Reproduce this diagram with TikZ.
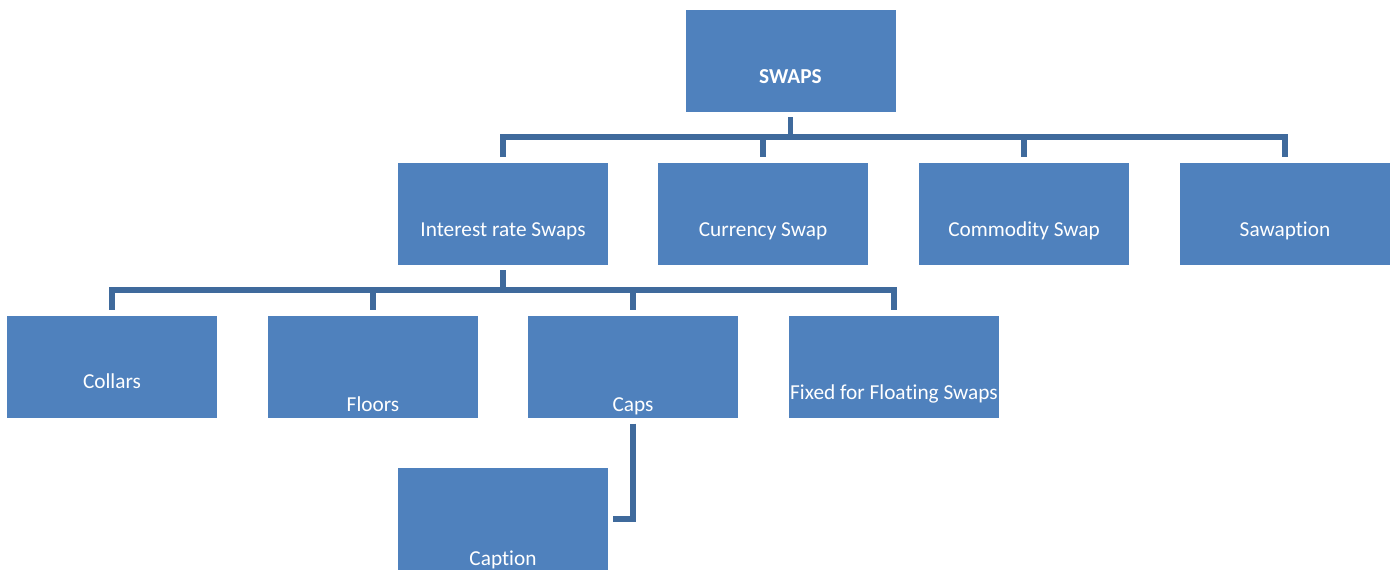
\documentclass[tikz,border=0pt]{standalone}
\usepackage{fontspec}
\setmainfont[Ligatures=NoCommon,Contextuals=NoAlternate]{Carlito}
\definecolor{boxblue}{HTML}{4F81BD}
\definecolor{linkblue}{HTML}{3F6A9C}
\begin{document}
\begin{tikzpicture}[x=1pt,y=-1pt,
  box/.style={fill=boxblue,draw=none,minimum width=210pt,minimum height=102pt,inner sep=0pt,outer sep=0pt},
  lbl/.style={text=white,anchor=base,inner sep=0pt,font=\fontsize{21.3}{24}\selectfont},
  conn/.style={draw=linkblue,line width=5.5pt,line join=miter}]
\useasboundingbox (0,0) rectangle (1394,570);

% boxes
\node[box] (swaps) at (790.5,61) {};
\node[box] (irs)   at (503,214) {};
\node[box] (cur)   at (763,214) {};
\node[box] (com)   at (1024,214) {};
\node[box] (sawp)  at (1285,214) {};
\node[box] (coll)  at (112,366.5) {};
\node[box] (flo)   at (373,366.5) {};
\node[box] (caps)  at (633,366.5) {};
\node[box] (fix)   at (894,366.5) {};
\node[box] (capt)  at (503,519) {};

% labels
\node[lbl,font=\fontsize{21.3}{24}\selectfont\bfseries] at (790.5,83) {SWAPS};
\node[lbl] at (503,236) {Interest rate Swaps};
\node[lbl] at (763,236) {Currency Swap};
\node[lbl] at (1024,236) {Commodity Swap};
\node[lbl] at (1285,236) {Sawaption};
\node[lbl] at (112,388) {Collars};
\node[lbl] at (373,411.5) {Floors};
\node[lbl] at (633,411.5) {Caps};
\node[lbl] at (894,399) {Fixed for Floating Swaps};
\node[lbl] at (503,565) {Caption};

% bus lines
\coordinate (bus1) at (0,137);
\coordinate (bus2) at (0,290);

\draw[conn] ([yshift=-5pt]swaps.south) -- (swaps.south |- bus1);
\draw[conn] ([yshift=6pt]irs.north) -- (irs.north |- bus1) -- (sawp.north |- bus1) -- ([yshift=6pt]sawp.north);
\draw[conn] (cur.north |- bus1) -- ([yshift=6pt]cur.north);
\draw[conn] (com.north |- bus1) -- ([yshift=6pt]com.north);

\draw[conn] ([yshift=-5pt]irs.south) -- (irs.south |- bus2);
\draw[conn] ([yshift=6pt]coll.north) -- (coll.north |- bus2) -- (fix.north |- bus2) -- ([yshift=6pt]fix.north);
\draw[conn] (flo.north |- bus2) -- ([yshift=6pt]flo.north);
\draw[conn] (caps.north |- bus2) -- ([yshift=6pt]caps.north);

\draw[conn] ([yshift=-6pt]caps.south) |- ([xshift=5pt]capt.east);
\end{tikzpicture}
\end{document}
